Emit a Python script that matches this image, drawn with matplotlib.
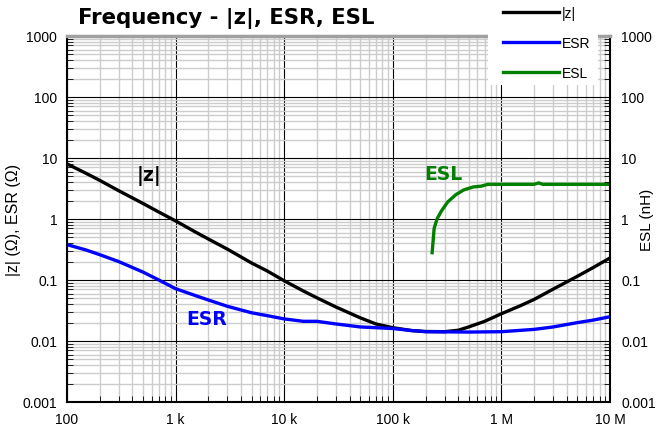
import numpy as np
import matplotlib
matplotlib.use("Agg")
import matplotlib.pyplot as plt
from matplotlib.patches import Rectangle
from matplotlib.ticker import LogLocator, FixedLocator, NullFormatter

f_z = [100, 150, 200, 300, 500, 700, 1e3, 1.5e3, 2e3, 3e3, 5e3, 7e3, 1e4, 1.5e4, 2e4, 3e4,
       5e4, 7e4, 1e5, 1.5e5, 2e5, 3e5, 4e5, 5e5, 7e5, 1e6, 1.5e6, 2e6, 3e6, 5e6, 7e6, 1e7]
z = [8.0, 5.6, 4.3, 2.9, 1.8, 1.3, 0.93, 0.62, 0.47, 0.32, 0.19, 0.14, 0.097, 0.066, 0.051, 0.036,
     0.024, 0.019, 0.0165, 0.0148, 0.0143, 0.0142, 0.015, 0.017, 0.021, 0.028, 0.038, 0.048, 0.071, 0.115, 0.16, 0.23]

f_esr = [100, 150, 200, 300, 500, 700, 1e3, 1.5e3, 2e3, 3e3, 5e3, 7e3, 1e4, 1.5e4, 2e4, 3e4,
         5e4, 7e4, 1e5, 1.5e5, 2e5, 5e5, 1e6, 2e6, 3e6, 5e6, 7e6, 1e7]
esr = [0.38, 0.31, 0.26, 0.2, 0.135, 0.1, 0.072, 0.056, 0.047, 0.037, 0.029, 0.026, 0.023, 0.021, 0.021, 0.019,
       0.017, 0.0165, 0.016, 0.0148, 0.0142, 0.014, 0.0142, 0.0155, 0.017, 0.02, 0.022, 0.025]

f_esl = [230e3, 240e3, 255e3, 280e3, 320e3, 380e3, 450e3, 550e3, 650e3, 750e3, 1e6, 2.0e6, 2.2e6, 2.4e6, 1e7]
esl = [0.28, 0.7, 1.0, 1.35, 1.9, 2.5, 3.0, 3.35, 3.45, 3.7, 3.7, 3.7, 3.9, 3.7, 3.7]

xticks = [1e2, 1e3, 1e4, 1e5, 1e6, 1e7]
xlabels = ["100", "1 k", "10 k", "100 k", "1 M", "10 M"]
yticks = [1e-3, 1e-2, 1e-1, 1, 10, 100, 1000]
ylabels = ["0.001", "0.01", "0.1", "1", "10", "100", "1000"]

plt.rcParams['font.family'] = ['Liberation Sans', 'DejaVu Sans']
fig = plt.figure(figsize=(6.56, 4.35), dpi=100)
ax = fig.add_axes([0.1021, 0.0736, 0.8279, 0.8414])

ax.set_xscale('log')
ax.set_yscale('log')
ax.set_xlim(100, 1e7)
ax.set_ylim(1e-3, 1e3)

ax.grid(True, which='minor', color='#cccccc', lw=1.0)
ax.grid(True, which='major', color='black', lw=0.8)
ax.set_axisbelow(True)

ax.plot(f_z, z, color='black', lw=2.4, label='|z|')
ax.plot(f_esr, esr, color='#0000ff', lw=2.4, label='ESR')
ax.plot(f_esl, esl, color='#008000', lw=2.4, label='ESL')

bold = dict(fontsize=13.5, fontweight='bold', ha='center', va='center', family='DejaVu Sans')
ax.text(570, 5.2, '|z|', **bold)
ax.text(1950, 0.023, 'ESR', color='#0000ff', **bold)
ax.text(2.95e5, 5.5, 'ESL', color='#008000', **bold)

ax.xaxis.set_major_locator(FixedLocator(xticks))
ax.set_xticklabels(xlabels)
ax.yaxis.set_major_locator(FixedLocator(yticks))
ax.set_yticklabels(ylabels)
ax.xaxis.set_minor_locator(LogLocator(base=10, subs=np.arange(2, 10), numticks=20))
ax.yaxis.set_minor_locator(LogLocator(base=10, subs=np.arange(2, 10), numticks=20))
ax.xaxis.set_minor_formatter(NullFormatter())
ax.yaxis.set_minor_formatter(NullFormatter())
ax.tick_params(which='major', length=0, labelsize=10, pad=7)
ax.tick_params(which='minor', direction='in', length=4, color='black')
ax.tick_params(axis='y', which='minor', left=True, right=False)
ax.set_ylabel('|z| (Ω), ESR (Ω)', fontsize=11.5)
ax.yaxis.set_label_coords(-0.085, 0.5)

for s in ['left', 'bottom', 'right']:
    ax.spines[s].set_color('black')
    ax.spines[s].set_linewidth(1.5)
ax.spines['top'].set_color('#a0a0a0')
ax.spines['top'].set_linewidth(2.5)

ax2 = ax.twinx()
ax2.set_yscale('log')
ax2.set_ylim(1e-3, 1e3)
ax2.yaxis.set_major_locator(FixedLocator(yticks))
ax2.set_yticklabels(ylabels)
ax2.yaxis.set_minor_locator(LogLocator(base=10, subs=np.arange(2, 10), numticks=20))
ax2.yaxis.set_minor_formatter(NullFormatter())
ax2.tick_params(which='major', length=0, labelsize=10, pad=8)
ax2.tick_params(which='minor', direction='in', length=4, color='black')
ax2.set_ylabel('ESL (nH)', fontsize=11)
ax2.yaxis.set_label_coords(1.055, 0.5)
for s in ax2.spines.values():
    s.set_visible(False)

fig.text(0.119, 0.958, 'Frequency - |z|, ESR, ESL', fontsize=15.3, fontweight='bold',
         va='center', family='DejaVu Sans')

# white block behind the legend, it sits over the top-right corner of the plot
fig.patches.append(Rectangle((0.744, 0.802), 0.168, 0.198, transform=fig.transFigure,
                             facecolor='white', edgecolor='none', zorder=5))
leg = fig.legend(loc='upper left', bbox_to_anchor=(0.75, 1.01), frameon=False, fontsize=10,
                 handlelength=4.0, labelspacing=1.15, borderpad=0.3, handletextpad=0.25)
leg.set_zorder(6)

fig.savefig('out.png', dpi=100)
